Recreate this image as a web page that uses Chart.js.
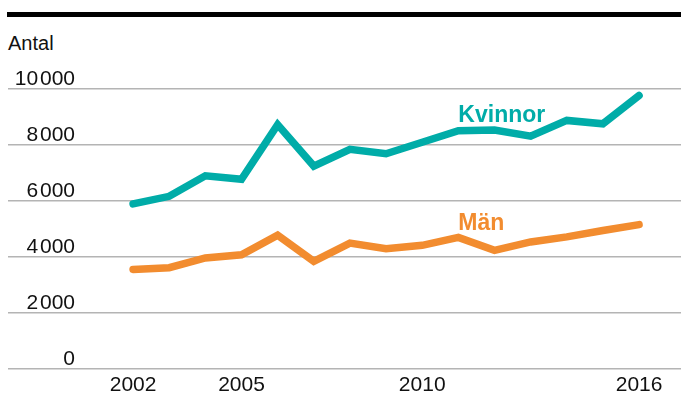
<!DOCTYPE html>
<html lang="sv">
<head>
<meta charset="utf-8">
<script src="https://cdn.jsdelivr.net/npm/chart.js@4.4.1/dist/chart.umd.min.js"></script>
<style>
  html, body { margin: 0; padding: 0; background: #ffffff; }
  #wrap { position: relative; width: 681px; height: 403px; overflow: hidden; }
  #bar { position: absolute; left: 7px; right: 0; top: 12px; height: 5px; background: #000; }
  #ytitle { position: absolute; left: 8px; top: 33px; font: 20px "Liberation Sans", Arial, sans-serif; line-height: 20px; color: #111; }
  canvas { position: absolute; left: 0; top: 0; }
</style>
</head>
<body>
<div id="wrap">
  <div id="bar"></div>
  <div id="ytitle">Antal</div>
  <canvas id="c" width="681" height="403"></canvas>
</div>
<script>
const years = [2002, 2003, 2004, 2005, 2006, 2007, 2008, 2009, 2010, 2011, 2012, 2013, 2014, 2015, 2016];
const kvinnor = [5880, 6150, 6880, 6760, 8710, 7230, 7830, 7670, 8080, 8490, 8520, 8300, 8860, 8740, 9750];
const man = [3540, 3600, 3950, 4060, 4760, 3830, 4480, 4280, 4400, 4680, 4220, 4520, 4700, 4930, 5140];
const seriesNames = ['Kvinnor', 'Män'];
const xTicks = [2002, 2005, 2010, 2016];
const yTicks = [0, 2000, 4000, 6000, 8000, 10000];
const yTickLabels = ['0', '2\u200A000', '4\u200A000', '6\u200A000', '8\u200A000', '10\u200A000'];

const TEAL = '#00aca8';
const ORANGE = '#f28c2f';
const FONT = '"Liberation Sans", Arial, sans-serif';
const TICK_SIZE = 21;

// right-align y labels at x ~ 75
const mctx = document.createElement('canvas').getContext('2d');
mctx.font = TICK_SIZE + 'px ' + FONT;
const widest = Math.max(...yTickLabels.map(t => mctx.measureText(t).width));
const yPad = 75 - 8 - widest;

const lineLabelPlugin = {
  id: 'lineLabels',
  afterDatasetsDraw(chart, args, opts) {
    const ctx = chart.ctx;
    const xs = chart.scales.x, ys = chart.scales.y;
    ctx.save();
    ctx.font = 'bold 23px ' + FONT;
    ctx.textAlign = 'left';
    ctx.textBaseline = 'alphabetic';
    opts.items.forEach(it => {
      ctx.fillStyle = it.color;
      ctx.fillText(it.text, xs.getPixelForValue(it.x), ys.getPixelForValue(it.y));
    });
    ctx.restore();
  }
};

const toPoints = arr => arr.map((v, i) => ({ x: years[i], y: v }));

new Chart(document.getElementById('c'), {
  type: 'line',
  data: {
    datasets: [
      { label: seriesNames[0], data: toPoints(kvinnor), borderColor: TEAL, backgroundColor: TEAL,
        borderWidth: 7.5, pointRadius: 0, tension: 0, borderCapStyle: 'round', borderJoinStyle: 'miter' },
      { label: seriesNames[1], data: toPoints(man), borderColor: ORANGE, backgroundColor: ORANGE,
        borderWidth: 7.5, pointRadius: 0, tension: 0, borderCapStyle: 'round', borderJoinStyle: 'miter' }
    ]
  },
  options: {
    responsive: false,
    animation: false,
    devicePixelRatio: 1,
    layout: { padding: { left: 8, right: 0, top: 88.5, bottom: 4.5 } },
    plugins: {
      legend: { display: false },
      tooltip: { enabled: false },
      lineLabels: {
        items: [
          { text: seriesNames[0], x: 2011, y: 8800, color: TEAL },
          { text: seriesNames[1], x: 2011, y: 4960, color: ORANGE }
        ]
      }
    },
    scales: {
      x: {
        type: 'linear',
        min: 1998.54,
        max: 2017.16,
        grid: { display: false, drawTicks: false },
        border: { display: false },
        afterBuildTicks: s => { s.ticks = xTicks.map(v => ({ value: v })); },
        afterFit: s => { s.height = 30; },
        ticks: {
          autoSkip: false, maxRotation: 0, padding: 4, color: '#111',
          font: { family: FONT, size: TICK_SIZE },
          callback: v => String(v)
        }
      },
      y: {
        min: 0,
        max: 10000,
        grid: { color: '#b4b4b4', lineWidth: 1.5, drawTicks: false },
        border: { display: false },
        afterBuildTicks: s => { s.ticks = yTicks.map(v => ({ value: v })); },
        afterFit: s => { s.width = 0; },
        ticks: {
          mirror: true, crossAlign: 'far', padding: yPad, labelOffset: -9.5, color: '#111',
          font: { family: FONT, size: TICK_SIZE },
          callback: (v) => yTickLabels[yTicks.indexOf(v)]
        }
      }
    }
  },
  plugins: [lineLabelPlugin]
});
</script>
</body>
</html>
